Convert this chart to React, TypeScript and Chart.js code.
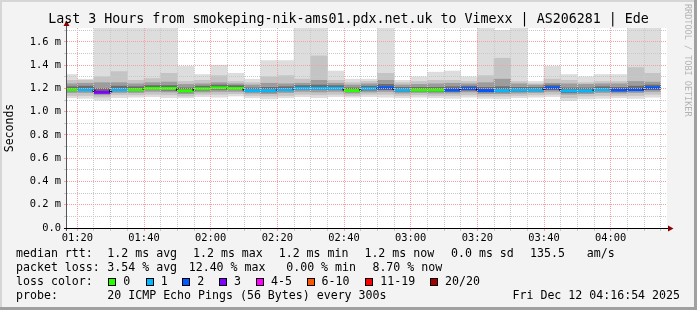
import React, { useEffect, useRef } from 'react';
import { Chart, registerables } from 'chart.js';

Chart.register(...registerables);

// ---------- text ----------
const TITLE = 'Last 3 Hours from smokeping-nik-ams01.pdx.net.uk to Vimexx | AS206281 | Ede';
const Y_TITLE = 'Seconds';
const WATERMARK = 'RRDTOOL / TOBI OETIKER';
const PROBE_TEXT = '20 ICMP Echo Pings (56 Bytes) every 300s';
const DATE_TEXT = 'Fri Dec 12 04:16:54 2025';

// ---------- time range ----------
const rangeStart = '01:16:54';
const rangeEnd = '04:16:54';
const stepMinutes = 5;

// ---------- categories: start of every 5-minute slot ----------
const slotStarts = [
  '01:15', '01:20', '01:25', '01:30', '01:35', '01:40', '01:45', '01:50', '01:55',
  '02:00', '02:05', '02:10', '02:15', '02:20', '02:25', '02:30', '02:35', '02:40', '02:45', '02:50', '02:55',
  '03:00', '03:05', '03:10', '03:15', '03:20', '03:25', '03:30', '03:35', '03:40', '03:45', '03:50', '03:55',
  '04:00', '04:05', '04:10',
];

// ---------- smoke (ms): nested ranges of the 20 pings in each slot ----------
const pingMax = [1.32, 1.28, 1.80, 1.80, 1.80, 1.80, 1.80, 1.39, 1.32, 1.40, 1.33, 1.28, 1.44, 1.44, 1.80, 1.80, 1.35, 1.28, 1.28, 1.80, 1.27, 1.30, 1.34, 1.35, 1.30, 1.80, 1.70, 1.80, 1.26, 1.39, 1.32, 1.30, 1.32, 1.32, 1.80, 1.80];
const pingHigh = [1.27, 1.27, 1.30, 1.345, 1.27, 1.285, 1.33, 1.26, 1.27, 1.31, 1.26, 1.25, 1.30, 1.31, 1.28, 1.48, 1.27, 1.25, 1.26, 1.33, 1.25, 1.26, 1.27, 1.27, 1.26, 1.31, 1.46, 1.26, 1.24, 1.28, 1.27, 1.25, 1.26, 1.26, 1.38, 1.33];
const pingMidHigh = [1.24, 1.245, 1.25, 1.25, 1.24, 1.25, 1.255, 1.235, 1.24, 1.25, 1.24, 1.23, 1.245, 1.24, 1.245, 1.27, 1.245, 1.23, 1.24, 1.27, 1.23, 1.235, 1.24, 1.245, 1.24, 1.25, 1.28, 1.24, 1.23, 1.245, 1.24, 1.235, 1.24, 1.24, 1.26, 1.255];
const pingCoreHigh = [1.215, 1.22, 1.20, 1.22, 1.215, 1.225, 1.225, 1.205, 1.22, 1.23, 1.225, 1.205, 1.21, 1.215, 1.225, 1.23, 1.225, 1.205, 1.22, 1.235, 1.21, 1.21, 1.21, 1.215, 1.22, 1.21, 1.215, 1.21, 1.21, 1.23, 1.205, 1.205, 1.215, 1.21, 1.22, 1.23];
const pingMedian = [1.19, 1.19, 1.167, 1.19, 1.19, 1.20, 1.20, 1.18, 1.197, 1.205, 1.20, 1.182, 1.182, 1.19, 1.20, 1.20, 1.20, 1.182, 1.198, 1.205, 1.187, 1.187, 1.187, 1.187, 1.198, 1.182, 1.182, 1.187, 1.187, 1.205, 1.18, 1.18, 1.19, 1.187, 1.19, 1.205];
const pingCoreLow = [1.18, 1.18, 1.16, 1.18, 1.18, 1.19, 1.185, 1.17, 1.185, 1.19, 1.19, 1.172, 1.17, 1.18, 1.19, 1.19, 1.19, 1.172, 1.186, 1.19, 1.176, 1.178, 1.176, 1.175, 1.186, 1.17, 1.17, 1.176, 1.178, 1.19, 1.165, 1.17, 1.18, 1.176, 1.18, 1.19];
const pingMidLow = [1.165, 1.165, 1.145, 1.165, 1.165, 1.175, 1.17, 1.155, 1.17, 1.175, 1.175, 1.16, 1.155, 1.165, 1.175, 1.17, 1.175, 1.16, 1.17, 1.175, 1.16, 1.165, 1.16, 1.16, 1.17, 1.155, 1.155, 1.16, 1.165, 1.175, 1.15, 1.155, 1.165, 1.16, 1.165, 1.175];
const pingLow = [1.14, 1.14, 1.125, 1.145, 1.145, 1.15, 1.145, 1.135, 1.15, 1.15, 1.155, 1.14, 1.135, 1.14, 1.15, 1.145, 1.15, 1.14, 1.15, 1.15, 1.14, 1.145, 1.14, 1.14, 1.145, 1.135, 1.135, 1.14, 1.145, 1.15, 1.12, 1.135, 1.14, 1.14, 1.14, 1.15];
const pingMin = [1.12, 1.115, 1.10, 1.12, 1.125, 1.13, 1.12, 1.12, 1.13, 1.125, 1.135, 1.12, 1.11, 1.12, 1.13, 1.12, 1.13, 1.125, 1.13, 1.125, 1.12, 1.125, 1.12, 1.115, 1.125, 1.115, 1.11, 1.12, 1.125, 1.13, 1.095, 1.11, 1.115, 1.12, 1.115, 1.125];
// lost pings (of 20) in each slot
const lossCount = [0, 1, 3, 1, 0, 0, 0, 0, 0, 0, 0, 1, 1, 1, 1, 1, 1, 0, 1, 2, 1, 0, 0, 2, 2, 2, 1, 1, 1, 2, 1, 1, 1, 2, 2, 2];

// ---------- axes ----------
const xTickLabels = ['01:20', '01:40', '02:00', '02:20', '02:40', '03:00', '03:20', '03:40', '04:00'];
const yTickValues = [0, 0.2, 0.4, 0.6, 0.8, 1.0, 1.2, 1.4, 1.6];
const yTickLabels = ['0.0', '0.2 m', '0.4 m', '0.6 m', '0.8 m', '1.0 m', '1.2 m', '1.4 m', '1.6 m'];
const yMax = 1.72;
const yMinorStep = 0.1;

// ---------- legend ----------
const lossLabels = ['0', '1', '2', '3', '4-5', '6-10', '11-19', '20/20'];
const lossColors = ['#26ff00', '#00b8ff', '#0059ff', '#7e00ff', '#ff00ff', '#ff5500', '#ff0000', '#a10000'];
const lossClassMin = [0, 1, 2, 3, 4, 6, 11, 20];
const rttStats = ['1.2 ms avg', '1.2 ms max', '1.2 ms min', '1.2 ms now', '0.0 ms sd', '135.5', 'am/s'];
const lossStats = ['3.54 % avg', '12.40 % max', '0.00 % min', '8.70 % now'];

// ---------- layout constants ----------
const W = 697;
const H = 310;
const MONO = '"DejaVu Sans Mono", "Liberation Mono", monospace';
const rttX = [107.3, 193, 278.7, 364.4, 451, 530, 586.7];
const lossX = [107.3, 188.7, 286.2, 372.4];
const boxX = [108.3, 145.7, 182.3, 219, 256, 306.5, 365.3, 430];
const rowY = [254, 268, 282, 296];

const toMin = (s: string) => {
  const p = s.split(':').map(Number);
  return p[0] * 60 + p[1] + (p[2] || 0) / 60;
};
const xMin = toMin(rangeStart);
const xMax = toMin(rangeEnd);
const slotStartMin = slotStarts.map(toMin);
const xMajor = xTickLabels.map(toMin);

const lossColor = (n: number) => {
  let c = lossColors[0];
  lossClassMin.forEach((m, i) => { if (n >= m) c = lossColors[i]; });
  return c;
};

const floating = (lo: number[], hi: number[]) =>
  slotStartMin.map((s, i) => ({ x: s + stepMinutes / 2, y: [lo[i], hi[i]] }));

const medianPoints = slotStartMin.flatMap((s, i) => [
  { x: s, y: pingMedian[i] },
  { x: s + stepMinutes, y: pingMedian[i] },
]);

const fmtTime = (v: number) => {
  const h = Math.floor(v / 60);
  const m = Math.round(v - h * 60);
  return String(h).padStart(2, '0') + ':' + String(m).padStart(2, '0');
};

const RED_GRID = '#f2a2a2';
const GRAY_GRID = '#c9c9c9';

const framePlugin = {
  id: 'rrdFrame',
  beforeDraw(chart: any) {
    const { ctx, chartArea: a } = chart;
    ctx.save();
    ctx.fillStyle = '#f3f3f3';
    ctx.fillRect(0, 0, W, H);
    ctx.fillStyle = '#d6d6d6';
    ctx.fillRect(0, 0, W, 2);
    ctx.fillRect(0, 0, 2, H);
    ctx.fillStyle = '#a0a0a0';
    ctx.fillRect(W - 3, 0, 3, H);
    ctx.fillRect(0, H - 3, W, 3);
    ctx.fillStyle = '#ffffff';
    ctx.fillRect(a.left, a.top, a.right - a.left, a.bottom - a.top);
    ctx.restore();
  },
  afterDraw(chart: any) {
    const { ctx, chartArea: a } = chart;
    ctx.save();
    // axes
    ctx.lineWidth = 1;
    ctx.strokeStyle = '#555555';
    ctx.beginPath();
    ctx.moveTo(a.left - 0.5, a.bottom + 3);
    ctx.lineTo(a.left - 0.5, a.top - 5);
    ctx.stroke();
    ctx.strokeStyle = '#000000';
    ctx.beginPath();
    ctx.moveTo(a.left - 3, a.bottom + 0.5);
    ctx.lineTo(a.right + 3, a.bottom + 0.5);
    ctx.stroke();
    // arrows
    ctx.fillStyle = '#8b0000';
    ctx.beginPath();
    ctx.moveTo(a.left - 3.5, a.top - 2);
    ctx.lineTo(a.left - 0.5, a.top - 7.5);
    ctx.lineTo(a.left + 2.5, a.top - 2);
    ctx.closePath();
    ctx.fill();
    ctx.beginPath();
    ctx.moveTo(a.right + 1, a.bottom - 2.5);
    ctx.lineTo(a.right + 6.5, a.bottom + 0.5);
    ctx.lineTo(a.right + 1, a.bottom + 3.5);
    ctx.closePath();
    ctx.fill();

    // title
    ctx.fillStyle = '#000000';
    ctx.textBaseline = 'middle';
    ctx.textAlign = 'center';
    ctx.font = `13.3px ${MONO}`;
    ctx.fillText(TITLE, W / 2, 19.5);

    // y title
    ctx.save();
    ctx.translate(10.5, (a.top + a.bottom) / 2);
    ctx.rotate(-Math.PI / 2);
    ctx.font = `11.5px ${MONO}`;
    ctx.fillText(Y_TITLE, 0, 0);
    ctx.restore();

    // watermark
    ctx.save();
    ctx.translate(687.5, 4);
    ctx.rotate(Math.PI / 2);
    ctx.textAlign = 'left';
    ctx.fillStyle = '#b4b4b4';
    ctx.font = `8.5px ${MONO}`;
    ctx.fillText(WATERMARK, 0, 0);
    ctx.restore();

    // legend rows
    ctx.textAlign = 'left';
    ctx.font = `11.6px ${MONO}`;
    ctx.fillStyle = '#000000';
    ctx.fillText('median rtt:', 16, rowY[0]);
    rttStats.forEach((t, i) => ctx.fillText(t, rttX[i], rowY[0]));
    ctx.fillText('packet loss:', 16, rowY[1]);
    lossStats.forEach((t, i) => ctx.fillText(t, lossX[i], rowY[1]));
    ctx.fillText('loss color:', 16, rowY[2]);
    lossLabels.forEach((t, i) => {
      const bx = Math.round(boxX[i]);
      const by = rowY[2] - 4;
      ctx.fillStyle = lossColors[i];
      ctx.fillRect(bx, by, 8, 8);
      ctx.strokeStyle = '#000000';
      ctx.strokeRect(bx + 0.5, by + 0.5, 7, 7);
      ctx.fillStyle = '#000000';
      ctx.fillText(t, boxX[i] + 15, rowY[2]);
    });
    ctx.fillText('probe:', 16, rowY[3]);
    ctx.fillText(PROBE_TEXT, 107.3, rowY[3]);
    ctx.textAlign = 'right';
    ctx.fillText(DATE_TEXT, 680, rowY[3]);
    ctx.restore();
  },
};

export default function App() {
  const ref = useRef<HTMLCanvasElement>(null);

  useEffect(() => {
    const canvas = ref.current;
    if (!canvas) return;

    const xTicks: number[] = [];
    for (let v = xMajor[0]; v < xMax; v += stepMinutes) xTicks.push(v);
    const yTicks: number[] = [];
    for (let i = 0; i * yMinorStep < yMax; i++) yTicks.push(Math.round(i * yMinorStep * 100) / 100);
    const isMajorY = (v: number) => yTickValues.some((t) => Math.abs(t - v) < 1e-6);
    const isMajorX = (v: number) => xMajor.some((t) => Math.abs(t - v) < 1e-6);

    const smoke = (label: string, lo: number[], hi: number[], color: string, order: number) => ({
      type: 'bar',
      label,
      data: floating(lo, hi) as any,
      backgroundColor: color,
      order,
      clip: 0 as any,
    });

    const chart = new Chart(canvas, {
      type: 'bar',
      data: {
        datasets: [
          {
            type: 'line',
            label: 'median',
            data: medianPoints as any,
            borderWidth: 3,
            borderColor: '#000',
            pointRadius: 0,
            fill: false,
            tension: 0,
            borderCapStyle: 'butt',
            clip: 0 as any,
            order: 0,
            segment: {
              borderColor: (c: any) =>
                c.p0DataIndex % 2 === 0 ? lossColor(lossCount[c.p0DataIndex / 2]) : 'rgba(0,0,0,0.85)',
            },
          } as any,
          smoke('core', pingCoreLow, pingCoreHigh, '#6c6c6c', 1) as any,
          smoke('inner', pingMidLow, pingMidHigh, '#9c9c9c', 2) as any,
          smoke('middle', pingLow, pingHigh, '#c4c4c4', 3) as any,
          smoke('outer', pingMin, pingMax, '#dddddd', 4) as any,
        ],
      },
      options: {
        responsive: false,
        animation: false,
        devicePixelRatio: 1,
        events: [],
        datasets: {
          bar: {
            grouped: false,
            barPercentage: 1,
            categoryPercentage: 1,
            borderWidth: 0,
          },
        },
        layout: { padding: { top: 28, right: 30, left: 0, bottom: 0 } },
        plugins: { legend: { display: false }, tooltip: { enabled: false }, title: { display: false } },
        scales: {
          x: {
            type: 'linear',
            min: xMin,
            max: xMax,
            offset: false,
            afterBuildTicks: (s: any) => { s.ticks = xTicks.map((v) => ({ value: v })); },
            afterFit: (s: any) => { s.height = 82; },
            grid: {
              z: 1,
              offset: false,
              lineWidth: 1,
              drawTicks: true,
              tickLength: 3,
              color: (c: any) => (isMajorX(c.tick.value) ? RED_GRID : GRAY_GRID),
              tickColor: (c: any) => (isMajorX(c.tick.value) ? RED_GRID : GRAY_GRID),
            },
            border: { display: false, dash: [1, 1] },
            ticks: {
              autoSkip: false,
              maxRotation: 0,
              minRotation: 0,
              padding: 1,
              color: '#000000',
              font: { family: MONO, size: 10.4 },
              callback: (v: any) => (isMajorX(Number(v)) ? fmtTime(Number(v)) : ''),
            },
          },
          y: {
            type: 'linear',
            min: 0,
            max: yMax,
            afterBuildTicks: (s: any) => { s.ticks = yTicks.map((v) => ({ value: v })); },
            afterFit: (s: any) => { s.width = 67; },
            grid: {
              z: 1,
              lineWidth: 1,
              drawTicks: true,
              tickLength: 3,
              color: (c: any) => (isMajorY(c.tick.value) ? RED_GRID : GRAY_GRID),
              tickColor: (c: any) => (isMajorY(c.tick.value) ? RED_GRID : GRAY_GRID),
            },
            border: { display: false, dash: [1, 1] },
            ticks: {
              autoSkip: false,
              padding: 3,
              color: '#000000',
              font: { family: MONO, size: 10.4 },
              callback: (v: any) => {
                const i = yTickValues.findIndex((t) => Math.abs(t - Number(v)) < 1e-6);
                return i >= 0 ? yTickLabels[i] : '';
              },
            },
          },
        },
      } as any,
      plugins: [framePlugin],
    });

    return () => chart.destroy();
  }, []);

  return (
    <div style={{ position: 'absolute', left: 0, top: 0, width: W, height: H }}>
      <canvas ref={ref} width={W} height={H} style={{ display: 'block', width: W, height: H }} />
    </div>
  );
}
